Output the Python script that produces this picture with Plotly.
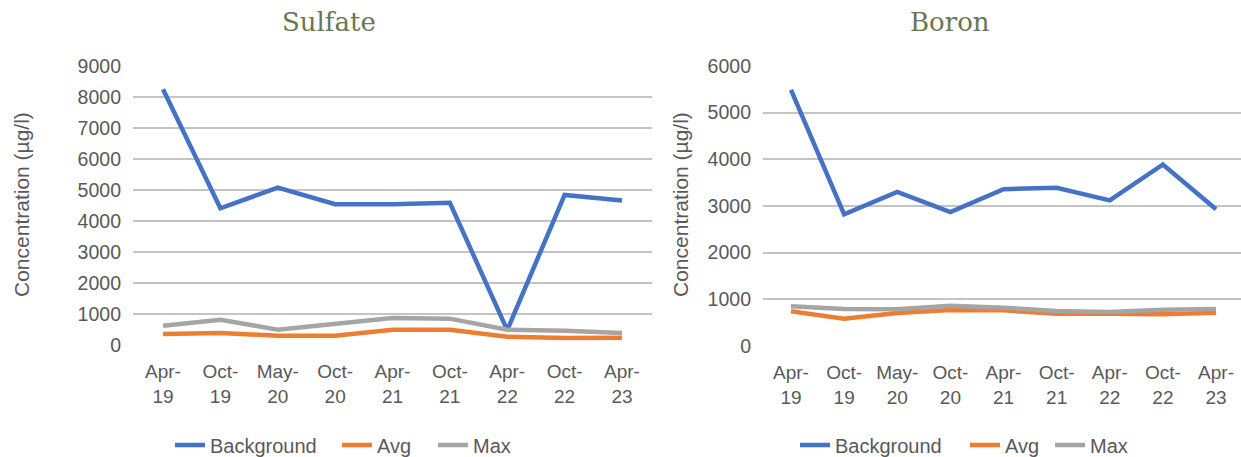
import plotly.graph_objects as go

W, H = 1241, 457

categories = ["Apr-19", "Oct-19", "May-20", "Oct-20", "Apr-21", "Oct-21", "Apr-22", "Oct-22", "Apr-23"]
tick_labels = [c.replace("-", "-<br>") for c in categories]

sulfate_background = [8250, 4410, 5075, 4540, 4540, 4590, 480, 4840, 4660]
sulfate_avg = [355, 387, 301, 301, 495, 495, 269, 226, 237]
sulfate_max = [624, 817, 495, 677, 871, 850, 495, 462, 387]

boron_background = [5490, 2820, 3300, 2870, 3360, 3390, 3120, 3890, 2930]
boron_avg = [743, 586, 707, 771, 764, 693, 693, 679, 714]
boron_max = [850, 793, 786, 864, 821, 750, 729, 779, 793]

series_names = ["Background", "Avg", "Max"]
colors = ["#4472C4", "#ED7D31", "#A5A5A5"]

TXT = "#595959"
GRID = "#C4C4C4"
FONT = "Liberation Sans, Arial, sans-serif"


def px_x(p):
    return p / W


def px_y(p):
    return 1 - p / H


# legend entry left positions (pixels) for each panel
legend_left = [[175, 342, 438], [800, 970, 1055]]

fig = go.Figure()

panels = [
    ("x", "y", [sulfate_background, sulfate_avg, sulfate_max]),
    ("x2", "y2", [boron_background, boron_avg, boron_max]),
]
legend_layouts = {}
k = 0
for pi, (xa, ya, data) in enumerate(panels):
    for si, (name, col, vals) in enumerate(zip(series_names, colors, data)):
        k += 1
        lg = "legend" if k == 1 else f"legend{k}"
        fig.add_trace(go.Scatter(
            x=categories, y=vals, name=name, mode="lines",
            line=dict(color=col, width=4.5),
            xaxis=xa, yaxis=ya, legend=lg, hoverinfo="skip",
        ))
        legend_layouts[lg] = dict(
            orientation="h", x=px_x(legend_left[pi][si] - 5), y=px_y(445),
            xanchor="left", yanchor="middle", itemwidth=30,
            font=dict(family=FONT, size=20, color=TXT), bgcolor="rgba(0,0,0,0)",
        )

xcommon = dict(type="category", categoryorder="array", categoryarray=categories,
               tickmode="array", tickvals=categories, ticktext=tick_labels,
               showgrid=False, zeroline=False, showline=False, ticks="", automargin=False,
               tickfont=dict(family=FONT, size=19, color=TXT), ticklabelstandoff=13)
ycommon = dict(showgrid=True, gridcolor=GRID, gridwidth=2, zeroline=False, showline=False,
               ticks="", automargin=False, tickfont=dict(family=FONT, size=19.5, color=TXT),
               ticklabelstandoff=11)

fig.update_layout(
    width=W, height=H,
    margin=dict(l=0, r=0, t=0, b=0, autoexpand=False),
    paper_bgcolor="white", plot_bgcolor="white",
    xaxis=dict(xcommon, domain=[px_x(133), px_x(652)], range=[-0.523, 8.523], anchor="y"),
    yaxis=dict(ycommon, domain=[px_y(345), px_y(66)], range=[0, 9000], dtick=1000, anchor="x"),
    xaxis2=dict(xcommon, domain=[px_x(763), px_x(1241)], range=[-0.527, 8.47], anchor="y2"),
    yaxis2=dict(ycommon, domain=[px_y(346), px_y(66)], range=[0, 6000], dtick=1000, anchor="x2"),
    showlegend=True,
    **legend_layouts,
)

title_font = dict(family="DejaVu Serif, serif", size=26, color="#6A7650")
ytitle_font = dict(family=FONT, size=21, color=TXT)
fig.add_annotation(text="Sulfate", x=px_x(329), y=px_y(22), xref="paper", yref="paper",
                   showarrow=False, font=title_font, xanchor="center", yanchor="middle")
fig.add_annotation(text="Boron", x=px_x(950), y=px_y(22), xref="paper", yref="paper",
                   showarrow=False, font=title_font, xanchor="center", yanchor="middle")
fig.add_annotation(text="Concentration (µg/l)", x=px_x(21), y=px_y(205), xref="paper", yref="paper",
                   showarrow=False, font=ytitle_font, textangle=-90, xanchor="center", yanchor="middle")
fig.add_annotation(text="Concentration (µg/l)", x=px_x(680), y=px_y(205), xref="paper", yref="paper",
                   showarrow=False, font=ytitle_font, textangle=-90, xanchor="center", yanchor="middle")

fig.write_html("out.html")
